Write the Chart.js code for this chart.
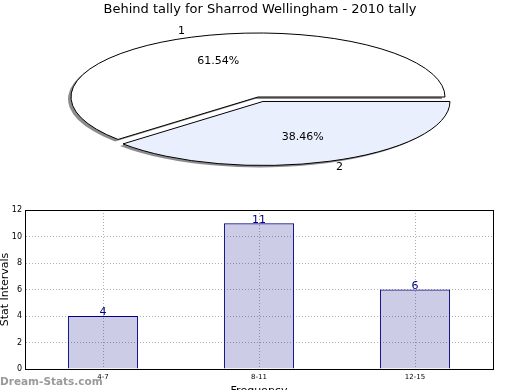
<!DOCTYPE html>
<html>
<head>
<meta charset="utf-8">
<script src="https://cdn.jsdelivr.net/npm/chart.js@4/dist/chart.umd.min.js"></script>
<style>
html, body { margin: 0; padding: 0; background: #fff; overflow: hidden; width: 520px; height: 390px; }
#pie { position: absolute; left: 0; top: 0; }
#bars { position: absolute; left: 0; top: 195px; }
#mark { position: absolute; left: 0; top: 375px; font: bold 10.5px "DejaVu Sans"; color: #9a9a9a; }
</style>
</head>
<body>
<canvas id="pie" width="520" height="195"></canvas>
<canvas id="bars" width="520" height="215"></canvas>
<div id="mark">Dream-Stats.com</div>
<script>
// pie data
const pieLabels = ['1', '2'];
const pieValues = [8, 5];
const pieColors = ['#ffffff', '#e9effc'];
const pieExplode = [0, 14];

// bar data
const barLabels = ['4-7', '8-11', '12-15'];
const barValues = [4, 11, 6];
const yTicks = [0, 2, 4, 6, 8, 10, 12];

Chart.defaults.font.family = '"DejaVu Sans", sans-serif';
Chart.defaults.color = '#000';

// where the flattened pie sits on the page
const PIE_CX = 258, PIE_CY = 97, PIE_RX = 187, PIE_RY = 64;
const pieTotal = pieValues.reduce((a, b) => a + b, 0);

// squash the round pie into an ellipse, add a drop shadow, pull out slices
const ellipsePlugin = {
  id: 'ellipse',
  beforeDatasetsDraw(chart) {
    const ctx = chart.ctx;
    const meta = chart.getDatasetMeta(0);
    const c = meta.data[0];
    ctx.save();
    const base = ctx.getTransform();
    ctx.translate(PIE_CX, PIE_CY);
    ctx.scale(1, PIE_RY / PIE_RX);
    ctx.translate(-c.x, -c.y);
    ctx.shadowColor = 'rgba(0,0,0,0.45)';
    ctx.shadowOffsetX = -3;
    ctx.shadowOffsetY = 2;
    ctx.shadowBlur = 0;
    // outline stays 1px thick and casts no shadow of its own
    const stroke = CanvasRenderingContext2D.prototype.stroke;
    ctx.stroke = function () {
      ctx.save();
      ctx.setTransform(base);
      ctx.shadowColor = 'rgba(0,0,0,0)';
      stroke.call(ctx);
      ctx.restore();
    };
    meta.data.forEach((arc, i) => {
      if (arc._exploded) return;
      const draw = arc.draw;
      arc.draw = function (cx, area) {
        const mid = (this.startAngle + this.endAngle) / 2;
        cx.save();
        cx.translate(Math.cos(mid) * pieExplode[i], Math.sin(mid) * pieExplode[i]);
        draw.call(this, cx, area);
        cx.restore();
      };
      arc._exploded = true;
    });
  },
  afterDatasetsDraw(chart) {
    const ctx = chart.ctx;
    delete ctx.stroke;
    ctx.restore();
    const meta = chart.getDatasetMeta(0);
    const k = PIE_RY / PIE_RX;
    ctx.save();
    ctx.fillStyle = '#000';
    ctx.textBaseline = 'middle';
    ctx.font = '11px "DejaVu Sans"';
    meta.data.forEach((arc, i) => {
      const mid = (arc.startAngle + arc.endAngle) / 2;
      const ox = Math.cos(mid) * pieExplode[i];
      const oy = Math.sin(mid) * pieExplode[i] * k;
      const at = f => [PIE_CX + ox + Math.cos(mid) * arc.outerRadius * f,
                       PIE_CY + oy + Math.sin(mid) * arc.outerRadius * f * k];
      let [x, y] = at(1.1);
      ctx.textAlign = Math.cos(mid) < 0 ? 'right' : 'left';
      ctx.fillText(pieLabels[i], x, y);
      [x, y] = at(0.6);
      ctx.textAlign = 'center';
      ctx.fillText((pieValues[i] / pieTotal * 100).toFixed(2) + '%', x, y);
    });
    ctx.restore();
  }
};

new Chart(document.getElementById('pie'), {
  type: 'pie',
  data: {
    labels: pieLabels,
    datasets: [{
      data: pieValues,
      backgroundColor: pieColors,
      borderColor: '#000',
      borderWidth: 1,
      clip: false
    }]
  },
  options: {
    responsive: false,
    animation: false,
    events: [],
    radius: PIE_RX,
    rotation: 90 - 360 * pieValues[0] / pieTotal,
    plugins: {
      legend: { display: false },
      tooltip: { enabled: false },
      title: {
        display: true,
        text: 'Behind tally for Sharrod Wellingham - 2010 tally',
        color: '#000',
        font: { size: 13, weight: 'normal' },
        padding: { top: 2, bottom: 0 }
      }
    }
  },
  plugins: [ellipsePlugin]
});

// numbers above the bars
const barValuePlugin = {
  id: 'barValues',
  afterDatasetsDraw(chart) {
    const ctx = chart.ctx;
    ctx.save();
    ctx.fillStyle = '#000080';
    ctx.font = '11px "DejaVu Sans"';
    ctx.textAlign = 'center';
    ctx.textBaseline = 'bottom';
    chart.getDatasetMeta(0).data.forEach((bar, i) => {
      ctx.fillText(String(barValues[i]), bar.x, bar.y + 2);
    });
    ctx.restore();
  }
};

new Chart(document.getElementById('bars'), {
  type: 'bar',
  data: {
    labels: barLabels,
    datasets: [{
      data: barValues,
      backgroundColor: 'rgba(0,0,128,0.2)',
      borderColor: '#000080',
      borderWidth: 1,
      barPercentage: 0.45,
      categoryPercentage: 1
    }]
  },
  options: {
    responsive: false,
    animation: false,
    events: [],
    layout: { padding: { top: 15, right: 27, left: 0, bottom: 0 } },
    plugins: { legend: { display: false }, tooltip: { enabled: false } },
    scales: {
      x: {
        grid: { offset: false, color: '#b0b0b0', drawTicks: false },
        border: { color: '#000', dash: [1, 2] },
        ticks: { padding: 4, maxRotation: 0, font: { size: 7 } },
        title: { display: true, text: 'Frequency', font: { size: 11 }, padding: { top: 0, bottom: 12 } },
        afterFit: s => { s.height = 41; }
      },
      x2: {
        type: 'category',
        position: 'top',
        grid: { display: false, drawTicks: false },
        ticks: { display: false },
        border: { color: '#000' },
        afterFit: s => { s.height = 0; }
      },
      y: {
        min: yTicks[0],
        max: yTicks[yTicks.length - 1],
        ticks: { stepSize: yTicks[1] - yTicks[0], padding: 3, font: { size: 8 } },
        grid: { color: '#b0b0b0', drawTicks: false },
        border: { color: '#000', dash: [1, 2] },
        title: { display: true, text: 'Stat Intervals', font: { size: 11, lineHeight: 1 }, padding: 0 },
        afterFit: s => { s.width = 25; }
      },
      y2: {
        type: 'linear',
        position: 'right',
        min: yTicks[0],
        max: yTicks[yTicks.length - 1],
        grid: { display: false, drawTicks: false },
        ticks: { display: false },
        border: { color: '#000' },
        afterFit: s => { s.width = 0; }
      }
    }
  },
  plugins: [barValuePlugin]
});
</script>
</body>
</html>
